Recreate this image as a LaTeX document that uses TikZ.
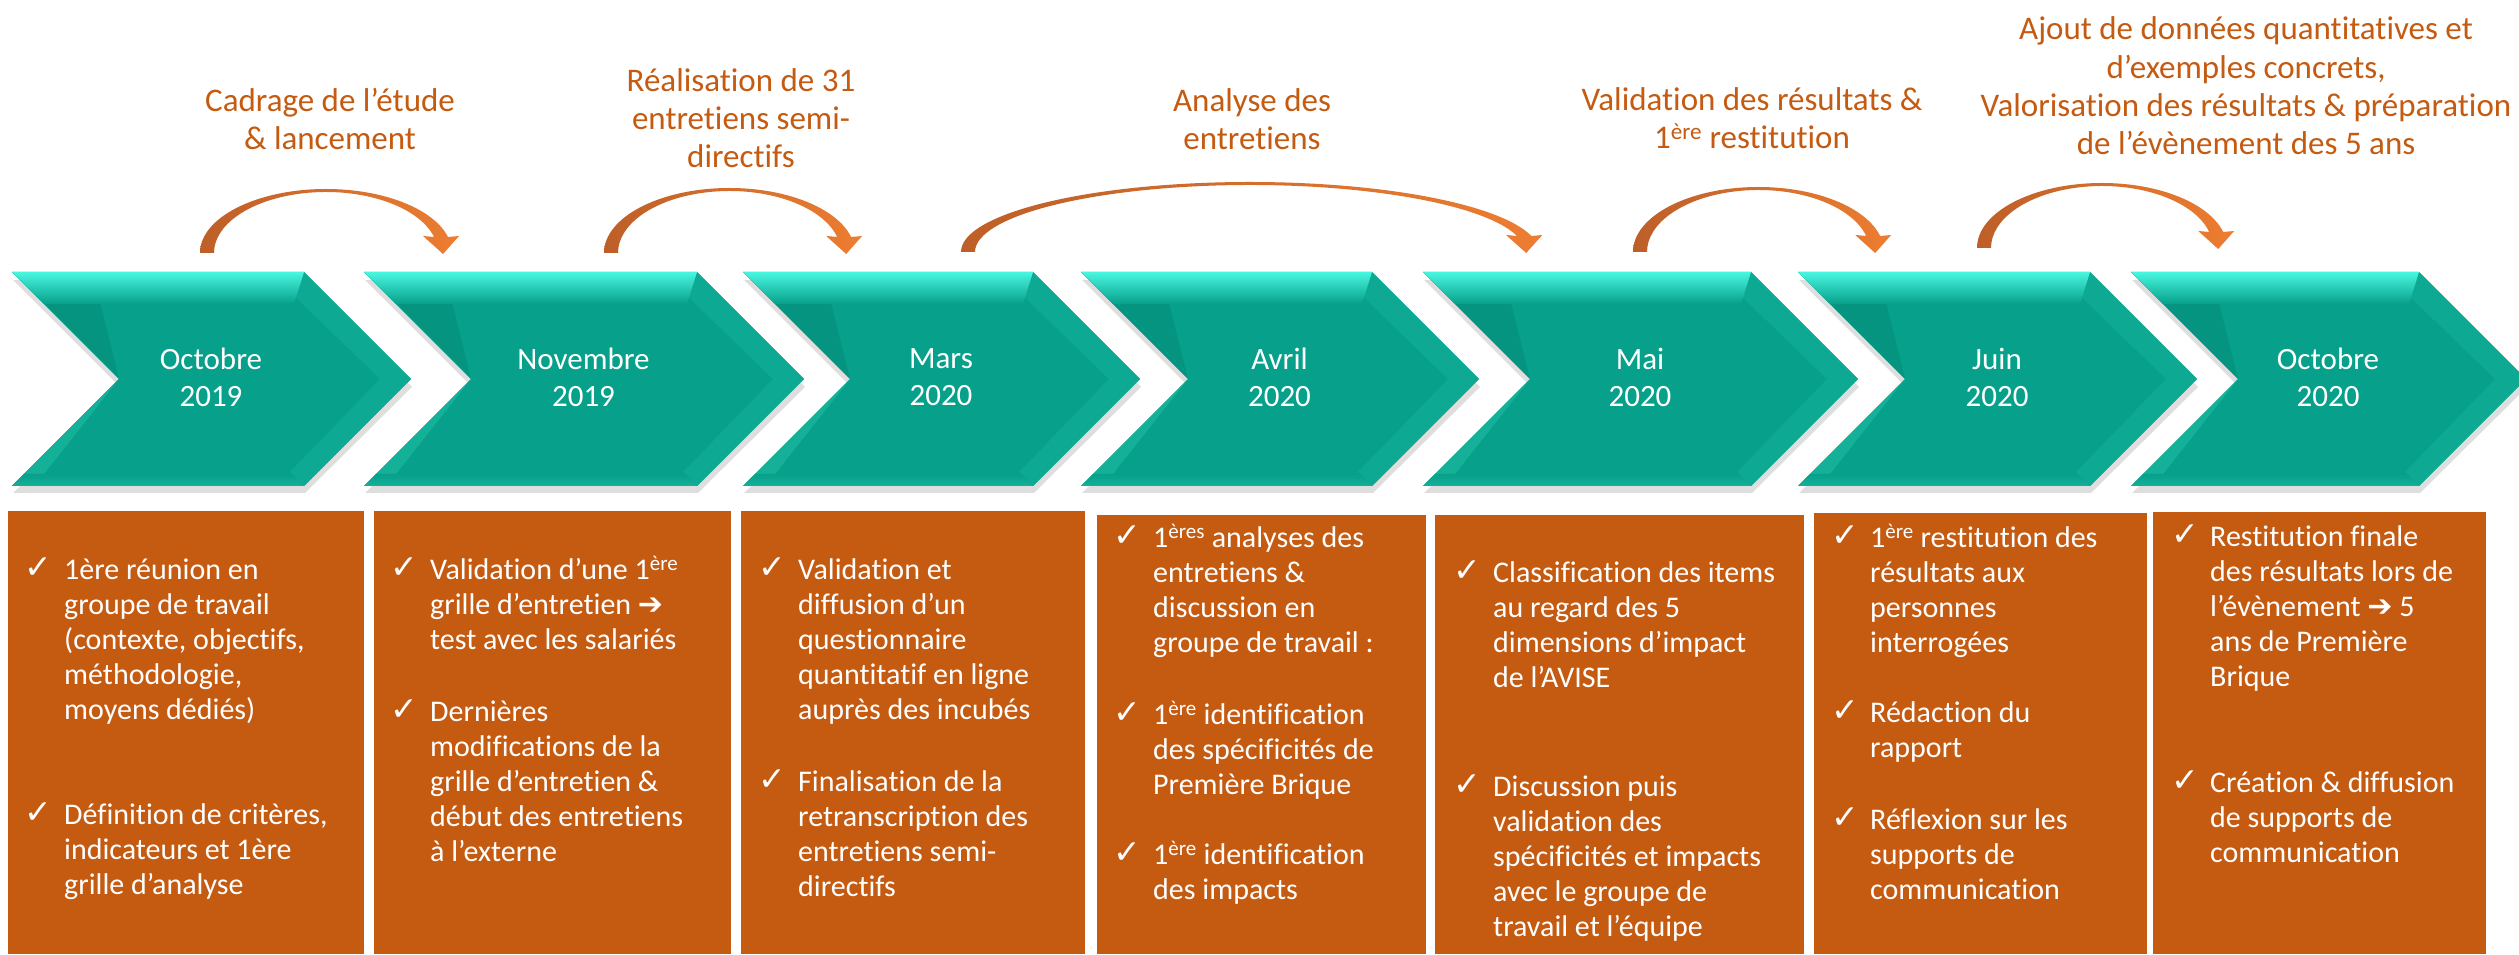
\documentclass[tikz,border=0pt]{standalone}
\usepackage{fontspec}
\setmainfont[Ligatures=NoCommon]{Carlito}
\newfontfamily\symfont{DejaVu Sans}
\usetikzlibrary{calc}
\definecolor{tealmain}{RGB}{7,160,138}
\definecolor{tealtop}{RGB}{72,246,224}
\definecolor{tealdark}{RGB}{4,148,127}
\definecolor{teallight}{RGB}{20,176,152}
\definecolor{boxorange}{RGB}{197,90,17}
\definecolor{arrowdark}{RGB}{189,95,40}
\definecolor{arrowlight}{RGB}{237,125,49}
\tikzset{
  title/.style={align=center, text=boxorange, font=\fontsize{33}{38.3}\selectfont},
  month/.style={align=center, text=white, font=\fontsize{31}{37}\selectfont},
  item/.style={anchor=north west, align=left, inner sep=0pt, text=white, font=\fontsize{30}{35}\selectfont},
  tick/.style={inner sep=0pt, text=white, font=\symfont\fontsize{33}{33}\selectfont},
}
% tapered bent arrow: left x : tip x : base y : height
\def\bendarrow(#1:#2:#3:#4){%
  \pgfmathsetmacro\brc{(#2-#1-7)/2}
  \pgfmathsetmacro\bcx{#1+7+\brc}
  \pgfmathsetmacro\bro{\brc+7}
  \pgfmathsetmacro\bri{\brc-7}
  \pgfmathsetmacro\bao{asin(16/#4)}
  \pgfmathsetmacro\bai{asin(16/(#4-3))}
  \pgfmathsetmacro\bxo{\bcx+\bro*cos(\bao)}
  \pgfmathsetmacro\bxi{\bcx+\bri*cos(\bai)}
  \shade[left color=arrowdark, right color=arrowlight] (#1,#3)
    arc[start angle=180, end angle=\bao, x radius=\bro, y radius=#4]
    -- (\bxo+11,#3+17) -- ({(\bxo+\bxi)/2+2},#3-1) -- (\bxi-11,#3+17) -- (\bxi,#3+16)
    arc[start angle=\bai, end angle=180, x radius=\bri, y radius=#4-3] -- cycle;}

\begin{document}
\begin{tikzpicture}[x=1pt,y=1pt]
			%%%%% START %%%%%
			\fill[white] (0,0) rectangle (2519,954);
			\useasboundingbox (0,0) rectangle (2519,954);
			
			% chevrons
			\foreach \l/\r/\m/\yr [count=\i] in {12/304/Octobre/2019, 364/697/Novembre/2019, 743/1033/Mars/2020, 1081/1372/Avril/2020, 1423/1751/Mai/2020, 1798/2090/Juin/2020, 2131/2419/Octobre/2020}{
				\fill[black, opacity=.13] (\l+1,674) -- (\r+1,674) -- (\r+108,567) -- (\r+1,461) -- (\l+1,461) -- (\l+108,567) -- cycle;
				\fill[tealmain] (\l,682) -- (\r,682) -- (\r+107,575) -- (\r,468) -- (\l,468) -- (\l+107,575) -- cycle;
				\fill[tealdark] (\l,682) -- (\l+88,651) -- (\l+107,575) -- cycle;
				\fill[teallight] (\l+107,575) -- (\l,468) -- (\l+32,480) -- cycle;
				\fill[teallight, opacity=.6] (\r,682) -- (\r+107,575) -- (\r,468) -- (\r-14,482) -- (\r+76,575) -- (\r-14,662) -- cycle;
				\shade[top color=tealtop, bottom color=tealmain] (\l,682) -- (\r,682) -- (\r-10,650) -- (\l+32,650) -- cycle;
				\shade[bottom color=teallight, top color=tealmain] (\l,468) -- (\r,468) -- (\r-12,480) -- (\l+12,480) -- cycle;
				\node[month] (m\i) at ({(\l+\r)/2+53}, 577) {\m\\\yr};
			}
			
			% boxes
			\fill[boxorange] (8,0) rectangle (364,443);
			\fill[boxorange] (374,0) rectangle (731,443);
			\fill[boxorange] (741,0) rectangle (1085,443);
			\fill[boxorange] (1097,0) rectangle (1426,439);
			\fill[boxorange] (1435,0) rectangle (1804,439);
			\fill[boxorange] (1814,0) rectangle (2147,441);
			\fill[boxorange] (2153,0) rectangle (2486,442);
			
			% arrows
			\bendarrow(200:445:701:64)
			\bendarrow(604:848:701:65)
			\bendarrow(961:1532:702:70)
			\bendarrow(1633:1877:702:65)
			\bendarrow(1977:2220:706:65)
			
			% titles
			\node[title] (t1) at (330,835) {Cadrage de l’étude\\\& lancement};
			\node[title] (t2) at (741,836) {Réalisation de 31\\entretiens semi-\\directifs};
			\node[title] (t3) at (1252,835) {Analyse des\\entretiens};
			\node[title] (t4) at (1752,836) {Validation des résultats \&\\1\textsuperscript{ère} restitution};
			\node[title] (t5) at (2246,868) {Ajout de données quantitatives et\\d’exemples concrets,\\Valorisation des résultats \& préparation\\de l’évènement des 5 ans};
			
			% box items
			\node[tick] (c1a) at (38,386) {✓};
			\node[item] (e1a) at (64,399.5) {\strut 1ère réunion en\\groupe de travail\\(contexte, objectifs,\\méthodologie,\\moyens dédiés)};
			\node[tick] (c1b) at (38,141) {✓};
			\node[item] (e1b) at (64,154.5) {\strut Définition de critères,\\indicateurs et 1ère\\grille d’analyse};
			
			\node[tick] (c2a) at (404,386) {✓};
			\node[item] (e2a) at (430,399.5) {\strut Validation d’une 1\textsuperscript{ère}\\grille d’entretien {\symfont\bfseries ➔}\\test avec les salariés};
			\node[tick] (c2b) at (404,244) {✓};
			\node[item] (e2b) at (430,257.5) {\strut Dernières\\modifications de la\\grille d’entretien \&\\début des entretiens\\à l’externe};
			
			\node[tick] (c3a) at (772,386) {✓};
			\node[item] (e3a) at (798,399.5) {\strut Validation et\\diffusion d’un\\questionnaire\\quantitatif en ligne\\auprès des incubés};
			\node[tick] (c3b) at (772,174) {✓};
			\node[item] (e3b) at (798,187.5) {\strut Finalisation de la\\retranscription des\\entretiens semi-\\directifs};
			
			\node[tick] (c4a) at (1127,418) {✓};
			\node[item] (e4a) at (1153,431.5) {\strut 1\textsuperscript{ères} analyses des\\entretiens \&\\discussion en\\groupe de travail :};
			\node[tick] (c4b) at (1127,241) {✓};
			\node[item] (e4b) at (1153,254.5) {\strut 1\textsuperscript{ère} identification\\des spécificités de\\Première Brique};
			\node[tick] (c4c) at (1127,101) {✓};
			\node[item] (e4c) at (1153,114.5) {\strut 1\textsuperscript{ère} identification\\des impacts};
			
			\node[tick] (c5a) at (1467,383) {✓};
			\node[item] (e5a) at (1493,396.5) {\strut Classification des items\\au regard des 5\\dimensions d’impact\\de l’AVISE};
			\node[tick] (c5b) at (1467,169) {✓};
			\node[item] (e5b) at (1493,182.5) {\strut Discussion puis\\validation des\\spécificités et impacts\\avec le groupe de\\travail et l’équipe};
			
			\node[tick] (c6a) at (1845,418) {✓};
			\node[item] (e6a) at (1870,431.5) {\strut 1\textsuperscript{ère} restitution des\\résultats aux\\personnes\\interrogées};
			\node[tick] (c6b) at (1845,243) {✓};
			\node[item] (e6b) at (1870,256.5) {\strut Rédaction du\\rapport};
			\node[tick] (c6c) at (1845,136) {✓};
			\node[item] (e6c) at (1870,149.5) {\strut Réflexion sur les\\supports de\\communication};
			
			\node[tick] (c7a) at (2185,419) {✓};
			\node[item] (e7a) at (2210,432.5) {\strut Restitution finale\\des résultats lors de\\l’évènement {\symfont\bfseries ➔} 5\\ans de Première\\Brique};
			\node[tick] (c7b) at (2185,173) {✓};
			\node[item] (e7b) at (2210,186.5) {\strut Création \& diffusion\\de supports de\\communication};
			
			%%%%% END %%%%%
\end{tikzpicture}
\end{document}
